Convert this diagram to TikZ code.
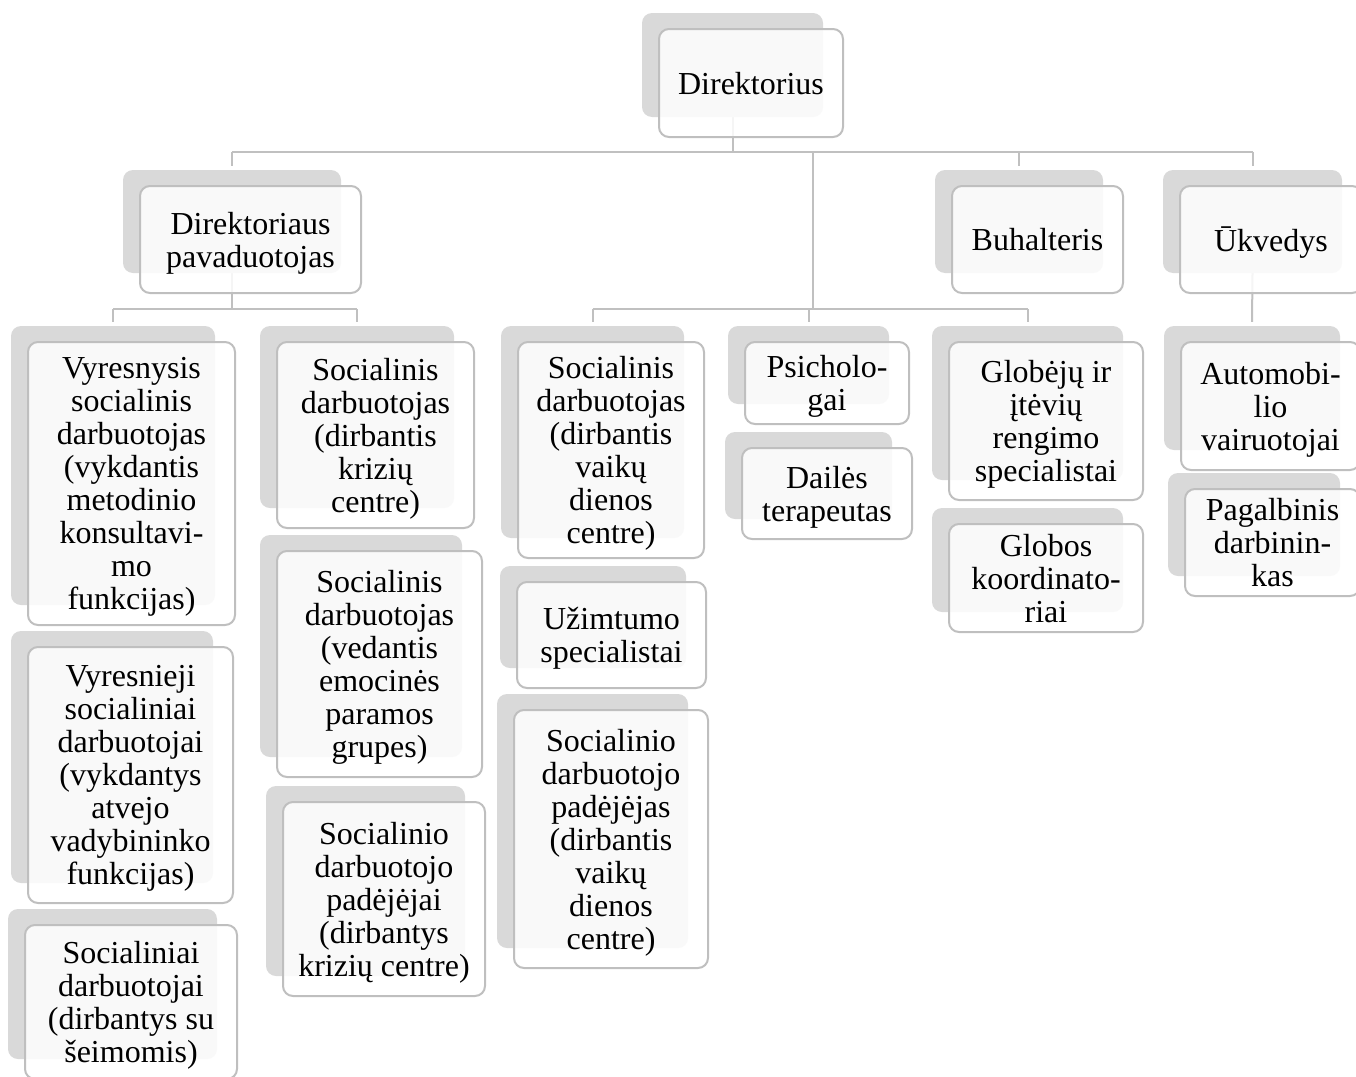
\documentclass[tikz,border=0pt]{standalone}
\usepackage{fontspec}
\setmainfont{Liberation Serif}
\pgfdeclarelayer{background}
\pgfsetlayers{background,main}
\definecolor{shd}{HTML}{D9D9D9}
\definecolor{brd}{HTML}{BFBFBF}
\definecolor{lnc}{HTML}{C0C0C0}
\tikzset{
  shadowbox/.style={fill=shd, draw=none, rounded corners=10pt, inner sep=0pt},
  mainbox/.style={draw=brd, line width=2pt, fill=white, fill opacity=0.85, text opacity=1,
    rounded corners=10pt, inner sep=0pt, align=center, text depth=0pt,
    font=\fontsize{32}{33}\selectfont},
  conn/.style={draw=lnc, line width=2pt},
}
% name, x1, y1, x2, y2, text
\newcommand\obox[6]{%
  \node[shadowbox, minimum width={#4-#2-3}, minimum height={#5-#3-4}]
    (#1s) at ({(#2+#4)/2-18.5},{(#3+#5)/2-18}) {};
  \node[mainbox, minimum width={#4-#2}, minimum height={#5-#3}]
    (#1) at ({(#2+#4)/2},{(#3+#5)/2}) {#6};
}
\begin{document}
\begin{tikzpicture}[x=1pt,y=-1pt]
\useasboundingbox (0,0) rectangle (1356,1076);
\obox{dir}{659}{29}{843}{137}{Direktorius}
\obox{pav}{140}{186}{361}{293}{Direktoriaus\\pavaduotojas}
\obox{buh}{952}{186}{1123}{293}{Buhalteris}
\obox{uk}{1180}{186}{1362}{293}{Ūkvedys}
\obox{va}{28}{342}{235}{625}{Vyresnysis\\socialinis\\darbuotojas\\(vykdantis\\metodinio\\konsultavi-\\mo\\funkcijas)}
\obox{vb}{28}{647}{233}{903}{Vyresnieji\\socialiniai\\darbuotojai\\(vykdantys\\atvejo\\vadybininko\\funkcijas)}
\obox{vc}{25}{925}{237}{1079}{Socialiniai\\darbuotojai\\(dirbantys su\\šeimomis)}
\obox{ka}{277}{342}{474}{528}{Socialinis\\darbuotojas\\(dirbantis\\krizių\\centre)}
\obox{kb}{277}{551}{482}{777}{Socialinis\\darbuotojas\\(vedantis\\emocinės\\paramos\\grupes)}
\obox{kc}{283}{802}{485}{996}{Socialinio\\darbuotojo\\padėjėjai\\(dirbantys\\krizių centre)}
\obox{da}{518}{342}{704}{558}{Socialinis\\darbuotojas\\(dirbantis\\vaikų\\dienos\\centre)}
\obox{db}{517}{582}{706}{688}{Užimtumo\\specialistai}
\obox{dc}{514}{710}{708}{968}{Socialinio\\darbuotojo\\padėjėjas\\(dirbantis\\vaikų\\dienos\\centre)}
\obox{pa}{745}{342}{909}{424}{Psicholo-\\gai}
\obox{pb}{742}{448}{912}{539}{Dailės\\terapeutas}
\obox{ga}{949}{342}{1143}{500}{Globėjų ir\\įtėvių\\rengimo\\specialistai}
\obox{gb}{949}{524}{1143}{632}{Globos\\koordinato-\\riai}
\obox{aa}{1181}{342}{1360}{470}{Automobi-\\lio\\vairuotojai}
\obox{ab}{1185}{489}{1360}{596}{Pagalbinis\\darbinin-\\kas}
\coordinate (bus1) at (0,152);
\coordinate (bus2) at (0,309);
\coordinate (cv) at (813,0);
\begin{pgfonlayer}{background}
\draw[conn] (dirs.south) -- (dirs.south |- bus1);
\draw[conn] (pavs.north |- bus1) -- (uks.north |- bus1);
\draw[conn] (pavs.north |- bus1) -- ([yshift=4pt]pavs.north);
\draw[conn] (buhs.north |- bus1) -- ([yshift=4pt]buhs.north);
\draw[conn] (uks.north |- bus1) -- ([yshift=4pt]uks.north);
\draw[conn] (cv |- bus1) -- (cv |- bus2);
\draw[conn] (das.north |- bus2) -- (gas.north |- bus2);
\draw[conn] (das.north |- bus2) -- ([yshift=4pt]das.north);
\draw[conn] (pas.north |- bus2) -- ([yshift=4pt]pas.north);
\draw[conn] (gas.north |- bus2) -- ([yshift=4pt]gas.north);
\draw[conn] (pavs.south) -- (pavs.south |- bus2);
\draw[conn] (vas.north |- bus2) -- (kas.north |- bus2);
\draw[conn] (vas.north |- bus2) -- ([yshift=4pt]vas.north);
\draw[conn] (kas.north |- bus2) -- ([yshift=4pt]kas.north);
\draw[conn] (uks.south) -- ([yshift=4pt]aas.north);
\end{pgfonlayer}
\end{tikzpicture}
\end{document}
